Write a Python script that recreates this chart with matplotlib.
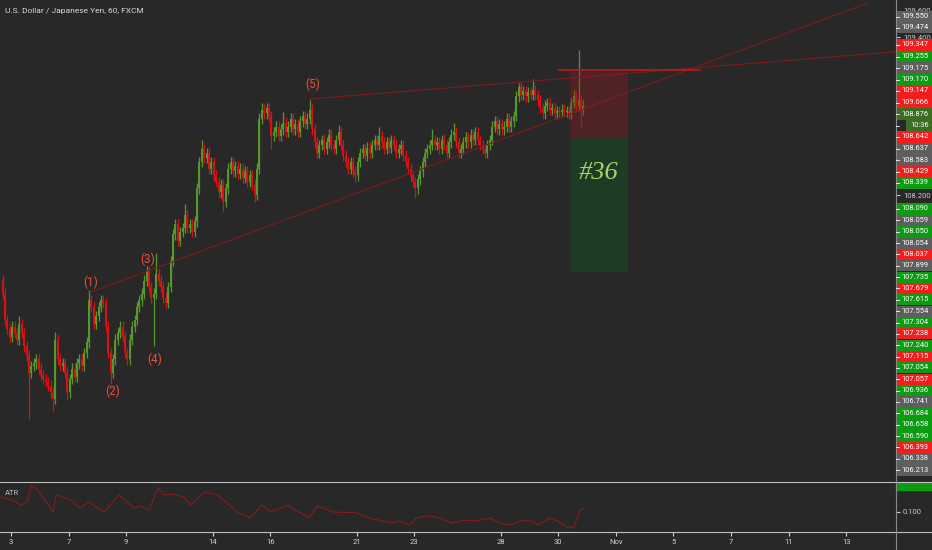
import numpy as np
import matplotlib.pyplot as plt
from matplotlib.patches import Rectangle
from matplotlib.lines import Line2D

plt.rcParams['font.family'] = ['Roboto', 'DejaVu Sans']

# USD/JPY 60 min, drawn as 2-hour candles; x unit = trading hour from Oct 3 00:00
first_open = 107.55
closes = [
    107.45, 107.25, 107.18, 107.12, 107.20, 107.15, 107.10, 107.22, 107.15, 107.05,
    106.98, 106.85, 106.90, 106.92, 106.95, 106.88, 106.83, 106.80, 106.78, 106.75,
    106.70, 106.65, 107.10, 106.95, 106.90, 106.92, 106.85, 106.70, 106.80, 106.88,
    106.82, 106.92, 106.95, 106.90, 107.00, 107.08, 107.40, 107.35, 107.22, 107.28,
    107.35, 107.40, 107.38, 107.20, 107.00, 106.85, 106.95, 107.10, 107.15, 107.20,
    107.12, 107.00, 106.95, 107.10, 107.20, 107.25, 107.35, 107.40, 107.45, 107.55,
    107.62, 107.50, 107.42, 107.45, 107.60, 107.55, 107.50, 107.42, 107.38, 107.50,
    107.70, 107.90, 107.98, 107.85, 107.92, 107.95, 108.05, 107.95, 107.98, 107.92,
    108.00, 108.25, 108.45, 108.55, 108.48, 108.52, 108.40, 108.45, 108.35, 108.30,
    108.22, 108.28, 108.15, 108.25, 108.40, 108.45, 108.38, 108.42, 108.36, 108.40,
    108.33, 108.38, 108.30, 108.35, 108.28, 108.20, 108.40, 108.78, 108.85, 108.82,
    108.86, 108.80, 108.65, 108.68, 108.72, 108.65, 108.70, 108.75, 108.68, 108.72,
    108.78, 108.70, 108.74, 108.68, 108.76, 108.80, 108.74, 108.78, 108.85, 108.70,
    108.60, 108.52, 108.58, 108.62, 108.55, 108.60, 108.66, 108.58, 108.55, 108.62,
    108.68, 108.58, 108.50, 108.45, 108.40, 108.45, 108.38, 108.35, 108.45, 108.52,
    108.55, 108.50, 108.56, 108.52, 108.58, 108.62, 108.58, 108.65, 108.60, 108.55,
    108.60, 108.56, 108.62, 108.58, 108.52, 108.55, 108.58, 108.50, 108.45, 108.40,
    108.35, 108.30, 108.25, 108.32, 108.38, 108.45, 108.52, 108.55, 108.58, 108.62,
    108.58, 108.60, 108.55, 108.62, 108.58, 108.52, 108.60, 108.66, 108.68, 108.60,
    108.52, 108.55, 108.60, 108.64, 108.60, 108.66, 108.62, 108.68, 108.62, 108.58,
    108.55, 108.52, 108.58, 108.62, 108.72, 108.76, 108.70, 108.74, 108.70, 108.72,
    108.78, 108.72, 108.76, 108.80, 108.95, 109.02, 108.96, 108.99, 108.95, 108.98,
    108.96, 109.00, 108.96, 108.92, 108.86, 108.82, 108.88, 108.90, 108.85, 108.86,
    108.82, 108.84, 108.83, 108.85, 108.83, 108.84, 108.82, 108.90, 108.95, 108.88,
    108.92, 108.85, 108.88,
]
highs = {7: 107.28, 22: 107.16, 36: 107.48, 42: 107.44, 60: 107.66, 64: 107.76,
         76: 108.13, 83: 108.62, 108: 108.90, 117: 108.83, 128: 108.92, 140: 108.73,
         157: 108.72, 179: 108.70, 188: 108.75, 197: 108.72, 215: 109.05, 221: 109.08,
         238: 109.00, 240: 109.30}
lows = {11: 106.50, 21: 106.56, 27: 106.64, 45: 106.76, 63: 107.05, 92: 108.07,
        105: 108.15, 112: 108.55, 147: 108.30, 172: 108.18, 201: 108.48, 241: 108.72}

atr_hours = [-9.2, 0.8, 8.3, 13.3, 16.7, 20.8, 28.3, 35, 37.5, 45, 50, 57.5, 65, 77.5,
             90, 102.5, 107.5, 115, 122.5, 127.5, 134.2, 144.2, 149.2, 161.7, 171.7,
             179.2, 189.2, 199.2, 209.2, 215.8, 230.8, 238.3, 248.3, 255.8, 268.3,
             288.3, 298.3, 317.5, 322.5, 332.5, 337.5, 347.5, 357.5, 367.5, 377.5,
             387.5, 399.2, 406.7, 416.7, 424.2, 431.7, 439.2, 449.2, 456.7, 464.2,
             469.2, 474.2, 477.5]
atr_vals = [0.150, 0.140, 0.123, 0.133, 0.187, 0.180, 0.140, 0.100, 0.157, 0.147,
            0.140, 0.113, 0.133, 0.100, 0.157, 0.113, 0.120, 0.107, 0.180, 0.157,
            0.160, 0.150, 0.123, 0.167, 0.157, 0.133, 0.097, 0.080, 0.123, 0.100,
            0.123, 0.103, 0.083, 0.120, 0.100, 0.097, 0.080, 0.063, 0.070, 0.057,
            0.080, 0.087, 0.080, 0.063, 0.073, 0.070, 0.080, 0.063, 0.057, 0.070,
            0.073, 0.057, 0.080, 0.067, 0.047, 0.050, 0.107, 0.110]

day_index = [0, 2, 4, 7, 9, 12, 14, 17, 19, 21, 23, 25, 27, 29]
day_labels = ["3", "7", "9", "14", "16", "21", "23", "28", "30", "Nov", "5", "7", "11", "13"]

wave_names = ["(1)", "(2)", "(3)", "(4)", "(5)"]
wave_hours = [66, 85, 114, 120, 251]
wave_prices = [107.54, 106.71, 107.71, 106.95, 109.04]

lower_trend_h = [66, 714]
lower_trend_p = [107.46, 109.66]
upper_trend_h = [249, 738]
upper_trend_p = [108.93, 109.29]
stop_line_h = [457, 574]
box_h = [466, 514]
entry, stop, target = 108.637, 109.147, 107.615

# scale ticks that peek out between the tags
scale_ticks = [109.6, 109.4, 108.2]

# price tags, in three stacks separated by the visible scale ticks
tags_a = [("109.550", "k"), ("109.474", "k")]
tags_b = [("109.347", "r"), ("109.255", "g"), ("109.175", "k"), ("109.170", "g"),
          ("109.147", "r"), ("109.066", "r"), ("108.876", "d"), ("10:36", "d"),
          ("108.642", "r"), ("108.637", "k"), ("108.583", "k"), ("108.429", "r"),
          ("108.339", "g")]
tags_c = [("108.090", "g"), ("108.059", "k"), ("108.050", "g"), ("108.054", "k"),
          ("108.037", "r"), ("107.899", "k"), ("107.735", "g"), ("107.679", "r"),
          ("107.615", "g"), ("107.554", "k"), ("107.304", "g"), ("107.238", "r"),
          ("107.240", "g"), ("107.115", "r"), ("107.054", "g"), ("107.057", "r"),
          ("106.936", "g"), ("106.741", "k"), ("106.684", "g"), ("106.658", "g"),
          ("106.590", "g"), ("106.393", "r"), ("106.338", "k"), ("106.213", "k")]

BG = "#282828"
GREEN = "#55992c"
RED = "#d81212"
TAGC = {"r": "#f01e1e", "g": "#0c9c12", "k": "#5e5e5e", "d": "#3b6e22"}
W, H = 932, 550


def fbox(x0, y0, x1, y1):
    return [x0 / W, 1 - y1 / H, (x1 - x0) / W, (y1 - y0) / H]


fig = plt.figure(figsize=(9.32, 5.5), dpi=100, facecolor=BG)

# main price panel
ax = fig.add_axes(fbox(0, 0, 896, 482))
ax.set_facecolor(BG)
ax.set_xlim(-11 / 1.2, 885 / 1.2)
ax.set_ylim(106.018, 109.683)
for s in ax.spines.values():
    s.set_visible(False)
ax.set_xticks([])
ax.yaxis.tick_right()
ax.set_yticks(scale_ticks)
ax.set_yticklabels(["%.3f" % v for v in scale_ticks])
ax.tick_params(axis="y", colors="#c8c8c8", labelsize=5.5, length=3, pad=2)

c = np.array(closes)
o = np.array([first_open] + closes[:-1])
t = -7 + 2 * np.arange(len(c))
col = np.where(c >= o, GREEN, RED)
WICK = 0.04
hi = [highs.get(k, max(o[k], c[k]) + WICK) for k in range(len(c))]
lo = [lows.get(k, min(o[k], c[k]) - WICK) for k in range(len(c))]
ax.vlines(t, lo, hi, colors=col, lw=0.9, zorder=2)
ax.bar(t, np.maximum(np.abs(c - o), 0.01), bottom=np.minimum(o, c), width=1.7,
       color=col, linewidth=0, zorder=3)

# drawings
ax.plot(lower_trend_h, lower_trend_p, color="#7e1b1b", lw=0.8, zorder=4)
ax.plot(upper_trend_h, upper_trend_p, color="#7e1b1b", lw=0.8, zorder=4)
ax.plot(stop_line_h, [stop, stop], color="#b01d1d", lw=1.3, zorder=4)
ax.add_patch(Rectangle((box_h[0], entry), box_h[1] - box_h[0], stop - entry,
                       color="#8f1d22", alpha=0.38, lw=0, zorder=5))
ax.add_patch(Rectangle((box_h[0], target), box_h[1] - box_h[0], entry - target,
                       color="#145b1d", alpha=0.38, lw=0, zorder=5))
ax.text((box_h[0] + box_h[1]) / 2, 108.367, "#36", family="Liberation Serif",
        style="italic", fontsize=19, color="#a8d46f", ha="center", va="center", zorder=6)
for n, h, p in zip(wave_names, wave_hours, wave_prices):
    ax.text(h, p, n, color="#e8503e", fontsize=8.5, ha="center", va="center", zorder=6)

# price tags on the right scale
tax = fig.add_axes(fbox(896, 0, 932, 482), zorder=5)
tax.set_xlim(0, 36)
tax.set_ylim(482, 0)
tax.axis("off")
tax.patch.set_visible(False)
positions = [16.5 + 11 * i for i in range(len(tags_a))] + \
            [45 + 11.5 * i for i in range(len(tags_b))] + \
            [209 + 11.35 * i for i in range(len(tags_c))]
for (txt, cc), yc in zip(tags_a + tags_b + tags_c, positions):
    x0 = 10 if ":" in txt else 1
    tax.add_patch(Rectangle((x0, yc - 5.6), 36 - x0, 11.2, color=TAGC[cc], lw=0))
    tax.plot([0, 2.5], [yc, yc], color="white", lw=0.6)
    tax.text((x0 + 36) / 2 + 0.5, yc, txt, color="white", fontsize=5.4,
             ha="center", va="center")

# ATR panel
bx = fig.add_axes(fbox(0, 483, 896, 532))
bx.set_facecolor(BG)
bx.set_xlim(-11 / 1.2, 885 / 1.2)
bx.set_ylim(0.0333, 0.1967)
for s in bx.spines.values():
    s.set_visible(False)
bx.plot(atr_hours, atr_vals, color="#8b1a1a", lw=0.8)
bx.yaxis.tick_right()
bx.set_yticks([0.1])
bx.set_yticklabels(["0.100"])
bx.set_xticks([24 * d for d in day_index])
bx.set_xticklabels(day_labels)
bx.tick_params(axis="y", colors="#c8c8c8", labelsize=5.5, length=3, pad=2)
bx.tick_params(axis="x", colors="#d0d0d0", labelsize=5.5, length=3, pad=2)
fig.add_artist(Rectangle((896 / W, 1 - 490 / H), 36 / W, 7 / H, color=TAGC["g"],
                         transform=fig.transFigure))

# separators and captions
for yy in (482, 532):
    fig.add_artist(Line2D([0, 1], [1 - yy / H] * 2, color="#c0c0c0", lw=0.8))
fig.add_artist(Line2D([896 / W] * 2, [0, 1], color="#8a8a8a", lw=0.8))
fig.text(5 / W, 1 - 11 / H, "U.S. Dollar / Japanese Yen, 60, FXCM", color="#d9d9d9",
         fontsize=6, va="center")
fig.text(5 / W, 1 - 493 / H, "ATR", color="#bbbbbb", fontsize=5.5, va="center")

plt.savefig("out.png", dpi=100, facecolor=BG)
